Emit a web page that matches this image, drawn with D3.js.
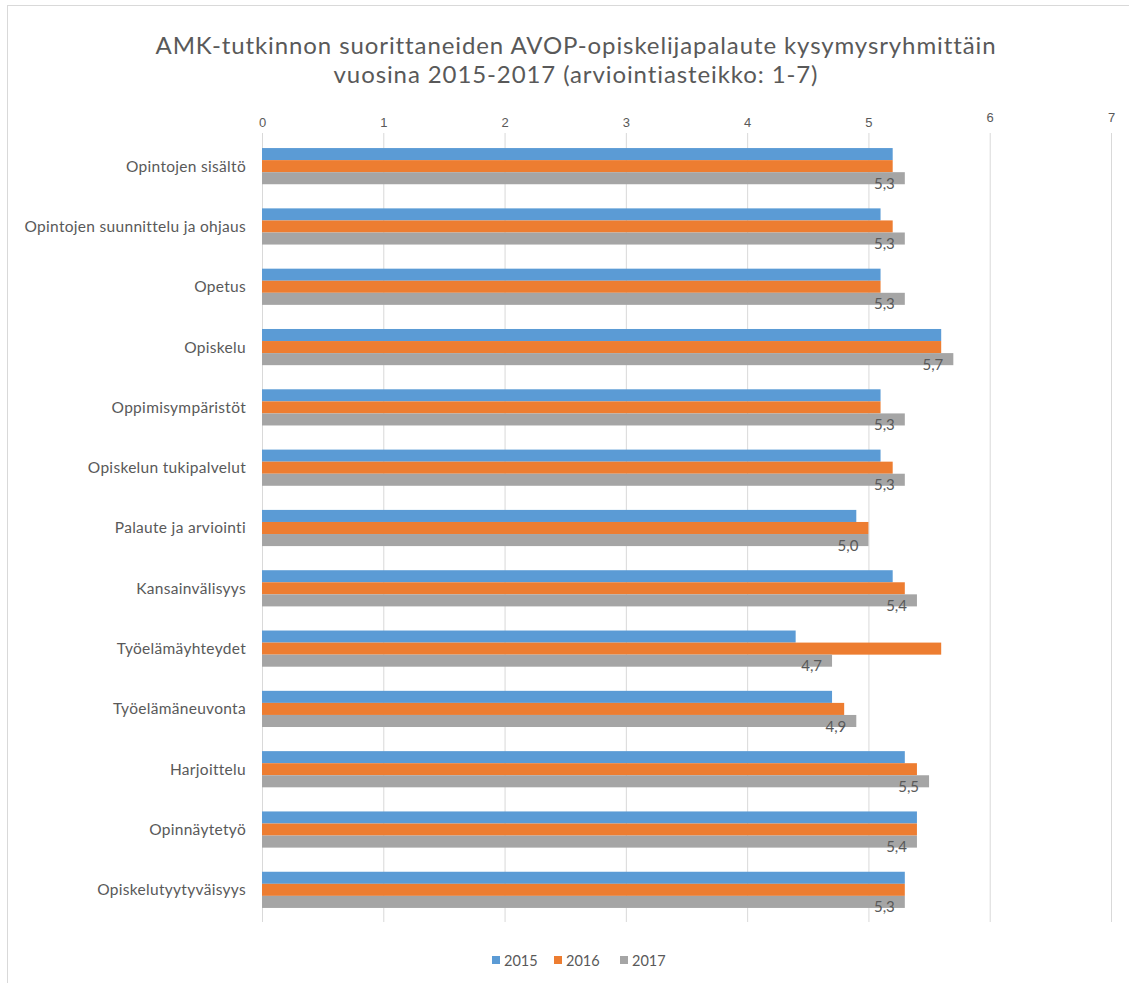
<!DOCTYPE html>
<html>
<head>
<meta charset="utf-8">
<script src="https://cdn.jsdelivr.net/npm/d3@7"></script>
<style>
  body { margin: 0; background: #fff; }
  svg { display: block; font-family: Lato, "Open Sans", sans-serif; }
</style>
</head>
<body>
<div id="chart"></div>
<script>
// Data
const categories = [
    "Opintojen sisältö",
    "Opintojen suunnittelu ja ohjaus",
    "Opetus",
    "Opiskelu",
    "Oppimisympäristöt",
    "Opiskelun tukipalvelut",
    "Palaute ja arviointi",
    "Kansainvälisyys",
    "Työelämäyhteydet",
    "Työelämäneuvonta",
    "Harjoittelu",
    "Opinnäytetyö",
    "Opiskelutyytyväisyys"
];
const years = ["2015", "2016", "2017"];
const values2015 = [5.2, 5.1, 5.1, 5.6, 5.1, 5.1, 4.9, 5.2, 4.4, 4.7, 5.3, 5.4, 5.3];
const values2016 = [5.2, 5.2, 5.1, 5.6, 5.1, 5.2, 5.0, 5.3, 5.6, 4.8, 5.4, 5.4, 5.3];
const values2017 = [5.3, 5.3, 5.3, 5.7, 5.3, 5.3, 5.0, 5.4, 4.7, 4.9, 5.5, 5.4, 5.3];
const xTicks = [0, 1, 2, 3, 4, 5, 6, 7];
const colors = ["#5B9BD5", "#ED7D31", "#A5A5A5"];

const seriesValues = [values2015, values2016, values2017];
const rows = categories.map((c, i) => ({
    category: c,
    values: years.map((y, j) => ({ year: y, value: seriesValues[j][i] }))
}));

// Dimensions
const W = 1129, H = 983;
const margin = { top: 136, right: 18, bottom: 63, left: 262 };
const width = 1111 - margin.left;
const height = H - margin.top - margin.bottom;

const svg = d3.select("#chart")
    .append("svg")
    .attr("width", W)
    .attr("height", H);

// Outer frame
svg.append("rect")
    .attr("x", 7.5).attr("y", 5.5)
    .attr("width", W + 10).attr("height", H + 10)
    .attr("fill", "none")
    .attr("stroke", "#D9D9D9");

// Title
svg.append("text")
    .attr("x", 576).attr("y", 0)
    .attr("text-anchor", "middle")
    .attr("fill", "#595959")
    .style("font-size", "24px")
    .style("letter-spacing", "0.9px")
    .selectAll("tspan")
    .data([
        "AMK-tutkinnon suorittaneiden AVOP-opiskelijapalaute kysymysryhmittäin",
        "vuosina 2015-2017 (arviointiasteikko: 1-7)"
    ])
    .join("tspan")
    .attr("x", 576)
    .attr("y", (d, i) => 54 + i * 29)
    .text(d => d);

const g = svg.append("g")
    .attr("transform", `translate(${margin.left},${margin.top})`);

// Scales
const x = d3.scaleLinear().domain([0, 7]).range([0, width]);
const y0 = d3.scaleBand().domain(categories).range([0, height]).paddingInner(0.4).paddingOuter(0.2);
const y1 = d3.scaleBand().domain(years).range([0, y0.bandwidth()]);

// Gridlines + top axis
const xAxis = g.append("g")
    .call(d3.axisTop(x).tickValues(xTicks).tickSize(-height - 2).tickPadding(10).tickFormat(d3.format("d")));
xAxis.select(".domain").remove();
xAxis.selectAll(".tick line")
    .attr("stroke", "#D9D9D9")
    .attr("y1", -3);
xAxis.selectAll(".tick text")
    .attr("fill", "#595959")
    .style("font-size", "13px")
    .attr("dy", d => d >= 6 ? "-0.3em" : "0.1em");

// Bars
const groups = g.selectAll(".group")
    .data(rows)
    .join("g")
    .attr("class", "group")
    .attr("transform", d => `translate(0,${y0(d.category)})`);

groups.selectAll("rect")
    .data(d => d.values)
    .join("rect")
    .attr("x", x(0))
    .attr("y", d => y1(d.year))
    .attr("width", d => x(d.value) - x(0))
    .attr("height", y1.bandwidth())
    .attr("fill", (d, i) => colors[i]);

// Value labels for 2017
groups.append("text")
    .attr("x", d => x(d.values[2].value) - 10)
    .attr("y", y1("2017") + y1.bandwidth())
    .attr("dy", "0.3em")
    .attr("text-anchor", "end")
    .attr("fill", "#595959")
    .style("font-size", "15px")
    .text(d => d3.format(".1f")(d.values[2].value).replace(".", ","));

// Category labels
g.append("g")
    .selectAll("text")
    .data(categories)
    .join("text")
    .attr("x", -16)
    .attr("y", d => y0(d) + y0.bandwidth() / 2)
    .attr("dy", "0.35em")
    .attr("text-anchor", "end")
    .attr("fill", "#595959")
    .style("font-size", "15.5px")
    .style("letter-spacing", "0.3px")
    .text(d => d);

// Legend
const legend = svg.append("g")
    .attr("transform", "translate(492,962)");
const legendX = [0, 62, 128];
const items = legend.selectAll("g")
    .data(years)
    .join("g")
    .attr("transform", (d, i) => `translate(${legendX[i]},0)`);
items.append("rect")
    .attr("x", 0).attr("y", -6)
    .attr("width", 8).attr("height", 8)
    .attr("fill", (d, i) => colors[i]);
items.append("text")
    .attr("x", 12).attr("y", 0)
    .attr("dy", "0.3em")
    .attr("fill", "#595959")
    .style("font-size", "14.5px")
    .text(d => d);
</script>
</body>
</html>
